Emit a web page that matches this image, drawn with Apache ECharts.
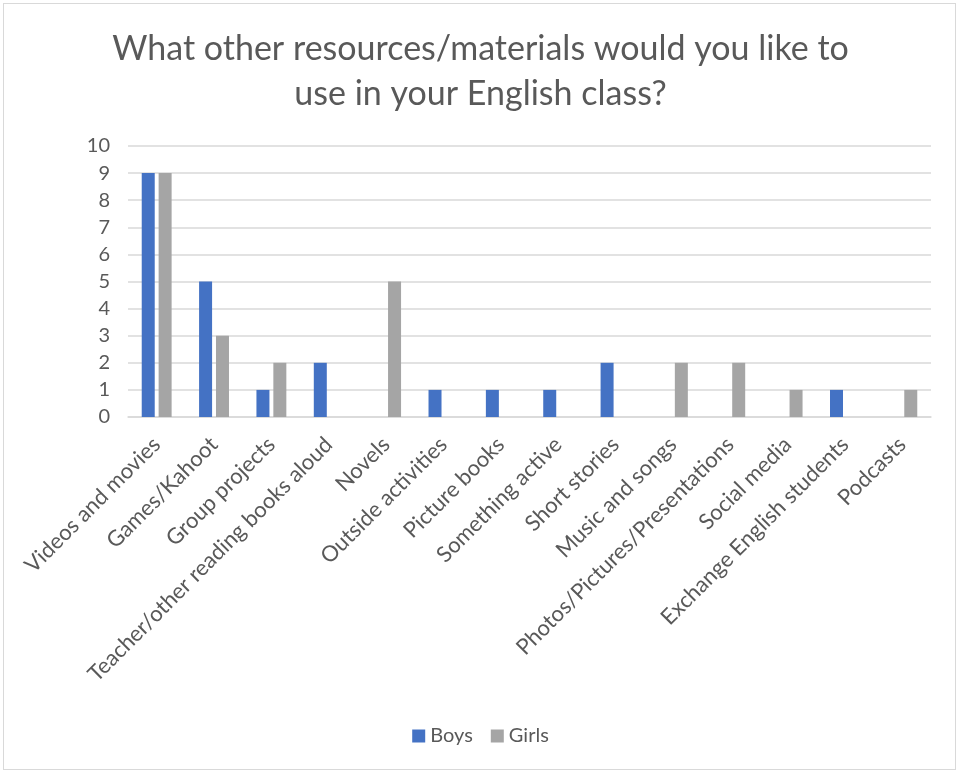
<!DOCTYPE html>
<html>
<head>
<meta charset="utf-8">
<script src="https://cdn.jsdelivr.net/npm/echarts@6/dist/echarts.min.js"></script>
<style>
  html, body { margin: 0; padding: 0; background: #ffffff; }
  #frame { position: absolute; left: 3px; top: 3px; width: 953px; height: 767px; border: 1px solid #d9d9d9; box-sizing: border-box; }
  #chart { width: 961px; height: 775px; }
</style>
</head>
<body>
<div id="frame"></div>
<div id="chart"></div>
<script>
// Survey answers: preferred resources/materials, by group
const categories = [
  'Videos and movies', 'Games/Kahoot', 'Group projects', 'Teacher/other reading books aloud',
  'Novels', 'Outside activities', 'Picture books', 'Something active', 'Short stories',
  'Music and songs', 'Photos/Pictures/Presentations', 'Social media',
  'Exchange English students', 'Podcasts'
];
const boys  = [9, 5, 1, 2, 0, 1, 1, 1, 2, 0, 0, 0, 1, 0];
const girls = [9, 3, 2, 0, 5, 0, 0, 0, 0, 2, 2, 1, 0, 1];
const seriesNames = ['Boys', 'Girls'];
const yTicks = { min: 0, max: 10, interval: 1 };

const FONT = 'Lato, "Open Sans", sans-serif';
const TEXT = '#595959';

const chart = echarts.init(document.getElementById('chart'));
chart.setOption({
  animation: false,
  textStyle: { fontFamily: FONT, color: TEXT },
  title: {
    text: 'What other resources/materials would you like to\nuse in your English class?',
    left: 'center',
    top: 22,
    textStyle: { fontFamily: FONT, fontSize: 34, fontWeight: 'normal', color: TEXT, lineHeight: 45 }
  },
  legend: {
    data: seriesNames,
    bottom: 24,
    left: 'center',
    icon: 'rect',
    itemWidth: 13,
    itemHeight: 13,
    itemGap: 18,
    textStyle: { fontFamily: FONT, fontSize: 20, color: TEXT }
  },
  grid: { left: 128, right: 30, top: 146, bottom: 358, containLabel: false },
  xAxis: {
    type: 'category',
    data: categories,
    axisLine: { lineStyle: { color: '#d9d9d9', width: 1.5 } },
    axisTick: { show: false },
    axisLabel: { interval: 0, rotate: 45, fontSize: 22, color: TEXT, fontFamily: FONT, margin: 24 }
  },
  yAxis: {
    type: 'value',
    min: yTicks.min, max: yTicks.max, interval: yTicks.interval,
    axisLine: { show: false },
    axisTick: { show: false },
    axisLabel: { fontSize: 20, color: TEXT, fontFamily: FONT, margin: 18 },
    splitLine: { lineStyle: { color: '#d9d9d9', width: 1.5 } }
  },
  series: [
    { name: seriesNames[0], type: 'bar', data: boys, barWidth: 13, barGap: '30%', itemStyle: { color: '#4472C4' } },
    { name: seriesNames[1], type: 'bar', data: girls, barWidth: 13, itemStyle: { color: '#A5A5A5' } }
  ]
});
</script>
</body>
</html>
